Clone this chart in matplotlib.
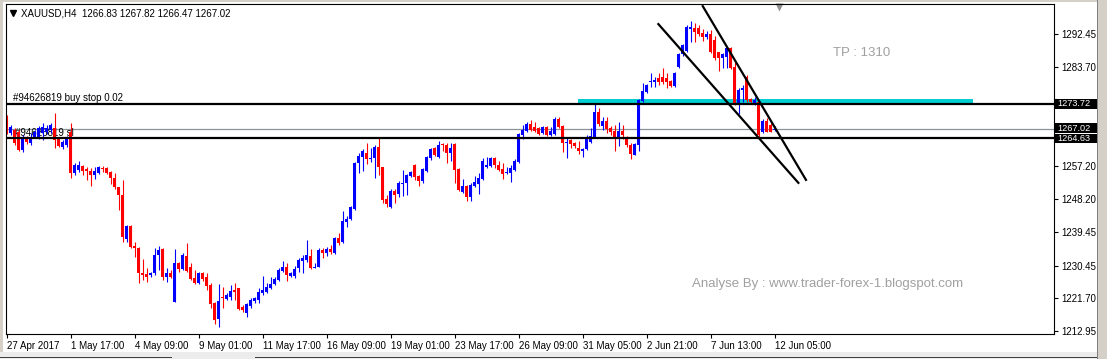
import numpy as np
import matplotlib
matplotlib.use("Agg")
import matplotlib.pyplot as plt
import matplotlib.transforms as mtransforms
from matplotlib.patches import Rectangle

# XAUUSD H4 bars, 27 Apr 2017 00:00 -> 12 Jun 2017 05:00
opens = [1270.0, 1265.9, 1266.8, 1266.2, 1261.4, 1264.6, 1263.3, 1264.9, 1264.9, 1265.9,
         1266.2, 1266.8, 1267.3, 1264.3, 1262.2, 1262.7, 1266.2, 1255.2, 1256.0, 1257.1,
         1256.3, 1255.8, 1254.7, 1255.2, 1256.6, 1256.6, 1255.5, 1253.9, 1251.5, 1249.3,
         1237.6, 1241.1, 1235.7, 1235.2, 1228.5, 1228.2, 1227.9, 1228.5, 1233.3, 1234.9,
         1227.4, 1228.5, 1220.7, 1231.2, 1229.5, 1233.0, 1230.1, 1227.1, 1225.8, 1228.5,
         1227.4, 1225.3, 1220.4, 1216.2, 1222.0, 1221.5, 1222.0, 1223.9, 1224.5, 1219.4,
         1217.8, 1219.6, 1221.0, 1221.2, 1223.1, 1223.4, 1224.5, 1225.5, 1226.6, 1229.0,
         1230.1, 1227.7, 1227.7, 1229.8, 1231.7, 1231.9, 1233.0, 1229.8, 1230.1, 1234.6,
         1233.8, 1234.9, 1233.8, 1237.8, 1236.8, 1242.1, 1242.9, 1245.6, 1257.9, 1259.5,
         1260.6, 1259.0, 1259.3, 1262.2, 1256.9, 1248.3, 1246.1, 1250.4, 1249.6, 1252.3,
         1252.6, 1254.4, 1257.4, 1254.4, 1253.1, 1255.8, 1259.3, 1261.9, 1259.5, 1263.0,
         1262.7, 1260.6, 1263.0, 1256.3, 1250.2, 1251.8, 1248.8, 1251.8, 1252.3, 1253.6,
         1256.9, 1257.1, 1259.3, 1257.4, 1256.3, 1255.2, 1255.2, 1256.0, 1258.2, 1265.4,
         1266.5, 1268.4, 1267.6, 1267.3, 1265.9, 1267.6, 1265.4, 1265.7, 1269.7, 1267.8,
         1263.3, 1264.1, 1263.3, 1261.9, 1261.1, 1261.7, 1263.5, 1264.9, 1271.6, 1267.8,
         1269.2, 1267.3, 1266.5, 1264.9, 1266.5, 1264.9, 1262.7, 1260.1, 1262.7, 1274.5,
         1276.9, 1279.6, 1279.6, 1280.7, 1280.9, 1280.7, 1279.9, 1278.5, 1283.6, 1287.1,
         1287.9, 1293.8, 1294.1, 1294.1, 1292.7, 1291.6, 1292.5, 1290.8, 1287.6, 1286.0,
         1286.3, 1288.7, 1283.6, 1274.0, 1277.5, 1280.9, 1275.1, 1274.0, 1274.2, 1266.2,
         1269.2, 1268.1, 1266.83]
highs = [1270.8, 1268.1, 1267.3, 1266.8, 1265.4, 1265.1, 1265.9, 1266.8, 1267.8, 1268.6,
         1268.1, 1268.6, 1271.3, 1264.9, 1264.1, 1265.1, 1268.6, 1257.9, 1258.5, 1257.4,
         1256.9, 1256.6, 1256.9, 1257.1, 1257.1, 1256.9, 1255.8, 1255.2, 1251.5, 1253.4,
         1241.3, 1241.3, 1236.8, 1235.4, 1232.2, 1229.8, 1228.7, 1235.2, 1235.7, 1235.2,
         1229.8, 1229.3, 1234.9, 1231.4, 1233.8, 1236.5, 1231.2, 1229.3, 1228.7, 1228.7,
         1228.5, 1225.8, 1220.7, 1225.5, 1224.7, 1223.1, 1225.3, 1225.8, 1224.5, 1219.9,
         1220.4, 1221.8, 1222.0, 1224.5, 1227.7, 1225.8, 1227.4, 1227.4, 1229.8, 1231.7,
         1231.2, 1228.7, 1230.3, 1232.5, 1233.3, 1237.3, 1234.9, 1231.2, 1235.2, 1235.2,
         1235.4, 1236.0, 1238.1, 1239.2, 1245.1, 1243.7, 1246.4, 1258.2, 1260.6, 1261.7,
         1263.3, 1261.9, 1262.7, 1264.6, 1256.9, 1249.3, 1251.0, 1251.0, 1253.1, 1256.0,
         1255.0, 1255.8, 1257.7, 1254.7, 1256.6, 1259.8, 1261.9, 1262.2, 1263.8, 1263.3,
         1263.3, 1263.3, 1263.3, 1256.6, 1253.6, 1252.0, 1252.6, 1254.4, 1255.2, 1259.3,
         1259.5, 1259.5, 1259.5, 1258.5, 1257.9, 1256.9, 1257.4, 1259.0, 1265.9, 1268.1,
         1268.9, 1269.4, 1268.9, 1267.6, 1267.8, 1267.8, 1267.6, 1270.2, 1270.2, 1268.1,
         1264.9, 1264.3, 1263.5, 1263.8, 1261.9, 1265.4, 1267.3, 1274.0, 1272.6, 1270.2,
         1270.2, 1267.8, 1268.1, 1268.9, 1268.1, 1265.1, 1263.3, 1263.3, 1275.1, 1279.3,
         1279.1, 1282.0, 1280.9, 1282.0, 1283.4, 1282.0, 1280.1, 1282.3, 1287.4, 1289.8,
         1294.9, 1295.9, 1295.4, 1294.9, 1293.8, 1293.3, 1293.5, 1291.9, 1287.6, 1287.4,
         1289.0, 1289.0, 1285.0, 1278.0, 1278.8, 1281.5, 1275.3, 1275.6, 1274.5, 1269.7,
         1270.0, 1268.6, 1267.82]
lows = [1265.7, 1265.4, 1262.7, 1261.1, 1260.9, 1263.0, 1262.7, 1264.6, 1264.3, 1264.1,
        1265.7, 1265.9, 1261.9, 1262.2, 1261.7, 1262.2, 1253.9, 1254.7, 1255.5, 1254.7,
        1253.4, 1251.8, 1253.6, 1255.0, 1255.5, 1255.0, 1252.3, 1251.0, 1245.3, 1236.8,
        1236.8, 1235.2, 1232.8, 1225.8, 1226.6, 1226.1, 1227.4, 1227.9, 1229.3, 1226.6,
        1226.1, 1227.1, 1220.7, 1228.7, 1229.3, 1228.7, 1226.6, 1225.5, 1225.5, 1226.3,
        1223.9, 1219.1, 1214.8, 1214.0, 1219.1, 1221.2, 1221.2, 1221.2, 1218.6, 1218.0,
        1216.7, 1219.1, 1220.4, 1220.4, 1222.6, 1223.1, 1224.2, 1225.3, 1226.3, 1228.7,
        1226.3, 1227.4, 1227.1, 1228.7, 1228.5, 1231.4, 1229.5, 1229.8, 1230.1, 1232.5,
        1233.0, 1233.6, 1233.6, 1235.9, 1236.5, 1240.8, 1242.7, 1245.3, 1255.2, 1255.8,
        1257.7, 1258.2, 1253.9, 1254.7, 1247.2, 1246.1, 1245.9, 1247.2, 1248.8, 1249.1,
        1249.3, 1254.2, 1253.4, 1251.8, 1252.6, 1255.5, 1258.7, 1259.8, 1259.3, 1261.1,
        1257.9, 1258.5, 1252.6, 1250.4, 1249.9, 1247.7, 1247.7, 1251.5, 1249.6, 1253.4,
        1256.6, 1256.9, 1256.6, 1255.8, 1253.6, 1255.0, 1252.8, 1255.8, 1257.9, 1264.3,
        1266.2, 1266.5, 1266.2, 1265.4, 1265.7, 1265.1, 1265.1, 1265.4, 1267.3, 1260.9,
        1259.3, 1261.9, 1261.9, 1260.3, 1259.5, 1261.4, 1263.3, 1264.9, 1267.8, 1266.8,
        1265.9, 1265.4, 1261.1, 1262.5, 1264.3, 1262.2, 1259.0, 1260.1, 1261.1, 1274.2,
        1276.7, 1278.3, 1278.3, 1278.8, 1279.1, 1278.0, 1278.3, 1278.3, 1283.4, 1286.6,
        1287.6, 1290.3, 1290.3, 1291.9, 1290.6, 1291.1, 1287.4, 1285.5, 1282.5, 1283.4,
        1283.4, 1283.1, 1273.4, 1271.0, 1274.2, 1274.2, 1273.7, 1273.4, 1264.9, 1265.9,
        1266.2, 1266.2, 1266.47]
closes = [1266.2, 1267.6, 1263.3, 1261.4, 1264.9, 1263.5, 1264.9, 1266.2, 1267.3, 1267.6,
          1267.3, 1268.1, 1264.1, 1262.5, 1263.5, 1264.6, 1255.2, 1257.4, 1257.4, 1255.8,
          1255.8, 1254.7, 1255.8, 1256.9, 1256.3, 1255.2, 1253.9, 1251.5, 1249.3, 1238.1,
          1241.1, 1235.4, 1235.2, 1228.5, 1227.9, 1227.4, 1228.5, 1233.3, 1234.6, 1227.4,
          1228.5, 1227.4, 1231.2, 1229.5, 1233.3, 1229.0, 1226.9, 1225.8, 1228.5, 1226.9,
          1225.0, 1220.2, 1215.9, 1221.0, 1221.8, 1222.6, 1223.7, 1223.4, 1218.8, 1218.6,
          1220.2, 1221.2, 1221.8, 1223.4, 1223.9, 1224.7, 1225.5, 1226.9, 1229.3, 1230.1,
          1227.9, 1228.5, 1229.5, 1231.9, 1232.5, 1233.3, 1229.8, 1230.1, 1234.6, 1233.8,
          1234.9, 1234.1, 1237.8, 1236.5, 1242.4, 1242.9, 1246.1, 1257.9, 1259.8, 1261.1,
          1259.0, 1259.3, 1262.2, 1256.9, 1248.0, 1246.9, 1250.4, 1249.3, 1252.6, 1252.6,
          1254.7, 1255.5, 1254.2, 1253.1, 1256.3, 1259.5, 1261.7, 1260.1, 1262.7, 1262.7,
          1260.6, 1261.9, 1256.0, 1250.7, 1251.8, 1248.8, 1252.0, 1252.8, 1253.9, 1258.5,
          1257.4, 1259.3, 1257.4, 1256.0, 1255.0, 1255.5, 1256.6, 1258.5, 1265.7, 1266.8,
          1268.4, 1266.8, 1266.5, 1265.7, 1267.6, 1265.4, 1266.5, 1269.7, 1267.6, 1263.3,
          1263.5, 1263.0, 1262.5, 1261.1, 1261.7, 1264.6, 1265.1, 1271.6, 1268.4, 1269.2,
          1267.0, 1266.2, 1264.9, 1266.5, 1265.4, 1262.7, 1260.3, 1263.0, 1274.8, 1277.2,
          1278.8, 1279.9, 1280.1, 1279.6, 1279.6, 1279.6, 1278.5, 1282.0, 1287.1, 1289.5,
          1294.3, 1294.3, 1293.0, 1292.5, 1291.6, 1292.5, 1287.6, 1286.0, 1286.0, 1287.1,
          1288.7, 1283.4, 1274.0, 1277.5, 1278.0, 1274.8, 1274.2, 1274.8, 1265.4, 1269.2,
          1266.2, 1266.2, 1267.02]

# time axis labels (every 16 bars)
date_bars = [0, 16, 32, 48, 64, 80, 96, 112, 128, 144, 160, 176, 192]
date_labels = ["27 Apr 2017", "1 May 17:00", "4 May 09:00", "9 May 01:00", "11 May 17:00",
               "16 May 09:00", "19 May 01:00", "23 May 17:00", "26 May 09:00", "31 May 05:00",
               "2 Jun 21:00", "7 Jun 13:00", "12 Jun 05:00"]
# 1274.95 and 1266.20 sit under the order price boxes, so only their ticks show
price_ticks = [1292.45, 1283.70, 1274.95, 1266.20, 1257.20, 1248.20, 1239.45, 1230.45,
               1221.70, 1212.95]
price_labels = ["1292.45", "1283.70", "", "", "1257.20", "1248.20", "1239.45", "1230.45",
                "1221.70", "1212.95"]

# order levels
buy_stop = 1273.72
stop_loss = 1264.63
bid = 1267.02
title = "XAUUSD,H4  1266.83 1267.82 1266.47 1267.02"

# hand drawn objects (bar index, price)
channel_low = ([162.9, 197.9], [1295.1, 1252.6])
channel_high = ([174.0, 199.8], [1299.9, 1253.4])
zone_bars = [142.8, 241.6]
zone_prices = [1273.72, 1275.1]

W, H = 1107, 359
plt.rcParams['font.family'] = ['Liberation Sans', 'DejaVu Sans']

fig = plt.figure(figsize=(W / 100, H / 100), dpi=100)
fig.patch.set_facecolor('white')
ax = fig.add_axes([6 / W, 1 - 334 / H, 1048 / W, 330 / H])


def fig_rect(x0, y0, x1, y1, color):
    # rectangle given in screen pixels (y down)
    fig.patches.append(Rectangle((x0 / W, 1 - y1 / H), (x1 - x0) / W, (y1 - y0) / H,
                                 transform=fig.transFigure, color=color, lw=0, zorder=0))


# window chrome
fig_rect(0, 0, W, 1.5, '#d4d0c8')
fig_rect(0, 0, 3, H, '#d4d0c8')
fig_rect(1097, 0, W, H, '#d4d0c8')
fig_rect(1097, 0, 1098.2, H, '#808080')
fig_rect(0, 352, 1097, H, '#ececec')
fig_rect(0, 356.5, 172, 357.7, '#404040')
fig_rect(255, 356.5, 1097, 357.7, '#404040')

# candles
x = np.arange(len(opens))
o = np.array(opens)
h = np.array(highs)
l = np.array(lows)
c = np.array(closes)
colors = np.where(c >= o, '#0000ff', '#ff0000')
ax.vlines(x, l, h, colors=colors, linewidth=0.8, zorder=2)
ax.bar(x, np.maximum(np.abs(c - o), 0.3), bottom=np.minimum(o, c), width=0.72,
       color=colors, linewidth=0, zorder=2)

# zone, order lines and channel
ax.add_patch(Rectangle((zone_bars[0], zone_prices[0]), zone_bars[1] - zone_bars[0],
                       zone_prices[1] - zone_prices[0], color='#00ced1', lw=0, zorder=1))
ax.axhline(bid, color='#8c949a', lw=0.9, zorder=1.5)
ax.axhline(buy_stop, color='black', lw=1.6, zorder=3)
ax.axhline(stop_loss, color='black', lw=1.6, zorder=3)
ax.plot(*channel_low, color='black', lw=1.6, zorder=4)
ax.plot(*channel_high, color='black', lw=1.6, zorder=4)

ax.text(1.6, 1274.5, "#94626819 buy stop 0.02", fontsize=7, va='baseline', zorder=5)
ax.text(2.1, 1265.1, "#94626819 sl", fontsize=7, va='baseline', zorder=1.8)
ax.text(206.6, 1287.4, "TP : 1310", fontsize=9.5, color='#a0a0a0', va='center')
ax.text(171.3, 1225.5, "Analyse By : www.trader-forex-1.blogspot.com", fontsize=9.5,
        color='#a0a0a0', va='center')

# axes setup
ax.set_xlim(-0.175, 261.8)
ax.set_ylim(1212.14, 1300.48)
ax.yaxis.tick_right()
ax.set_yticks(price_ticks)
ax.set_yticklabels(price_labels)
ax.set_xticks(date_bars)
ax.set_xticklabels(date_labels, ha='left')
ax.tick_params(axis='both', direction='out', length=3, width=0.8, pad=2, labelsize=7)
for s in ax.spines.values():
    s.set_linewidth(0.8)

# black price boxes on the right scale (the two lower ones touch, nudged apart a little)
trans = mtransforms.blended_transform_factory(ax.transAxes, ax.transData)
for price, nudge in [(buy_stop, 0.0), (bid, 0.25), (stop_loss, -0.15)]:
    ax.add_patch(Rectangle((1.001, price + nudge - 1.3), 0.04, 2.6, transform=trans,
                           color='black', lw=0, zorder=9, clip_on=False))
    ax.text(1.0035, price + nudge, f"{price:.2f}", transform=trans, color='white',
            fontsize=6.6, va='center', ha='left', zorder=10, clip_on=False)

# title and markers
fig.text(21 / W, 1 - 13 / H, title, fontsize=7, va='center')
ax.plot([12.5 / W], [1 - 13 / H], marker='v', ms=4, color='black',
        transform=fig.transFigure, clip_on=False)
ax.plot([779 / W], [1 - 6.5 / H], marker='v', ms=6, color='#909090', mec='none',
        transform=fig.transFigure, clip_on=False)

fig.savefig('out.png', dpi=100)
